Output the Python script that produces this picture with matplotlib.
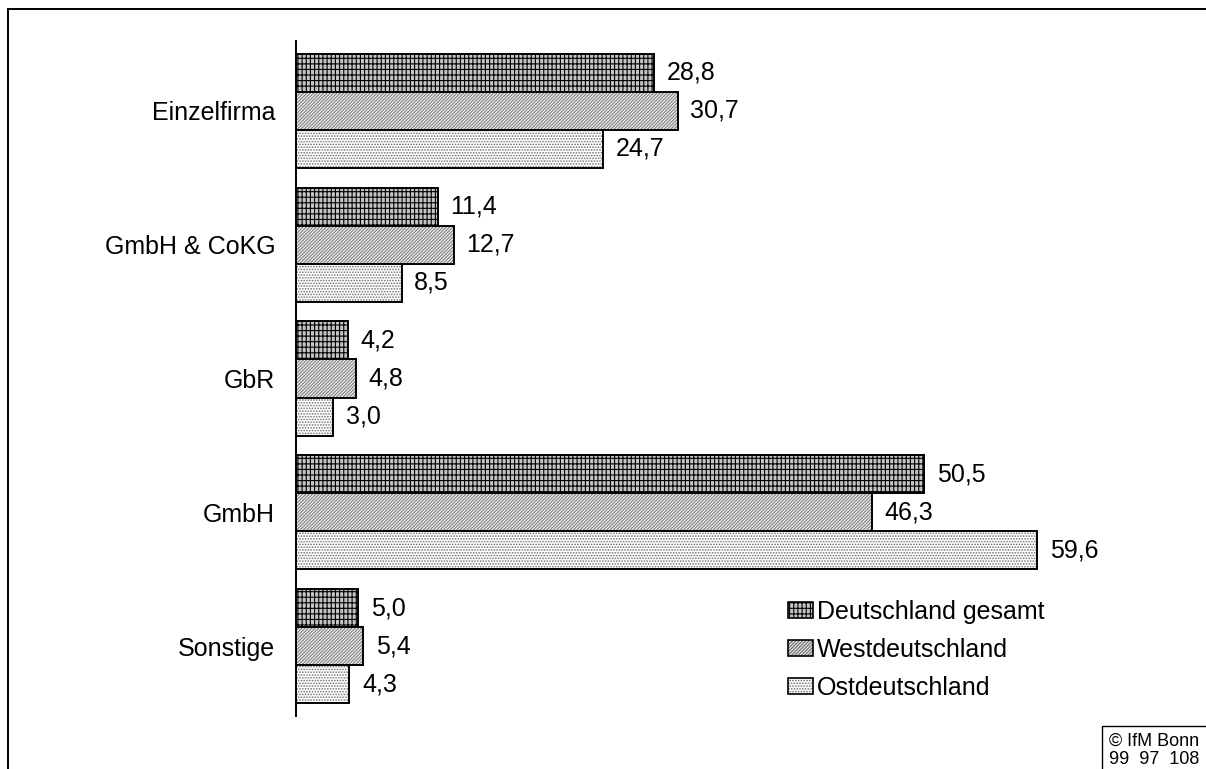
import matplotlib
matplotlib.use("Agg")
import matplotlib.pyplot as plt
from matplotlib.patches import Rectangle
from matplotlib.legend_handler import HandlerTuple
import numpy as np

plt.rcParams['font.family'] = ['Liberation Sans', 'DejaVu Sans']
plt.rcParams['hatch.linewidth'] = 0.8

categories = ["Einzelfirma", "GmbH & CoKG", "GbR", "GmbH", "Sonstige"]
series_names = ["Deutschland gesamt", "Westdeutschland", "Ostdeutschland"]
gesamt = [28.8, 11.4, 4.2, 50.5, 5.0]
west = [30.7, 12.7, 4.8, 46.3, 5.4]
ost = [24.7, 8.5, 3.0, 59.6, 4.3]

W, H = 1206, 769
fig = plt.figure(figsize=(W / 100, H / 100), dpi=100)

# outer frame of the chart area (runs off the right and bottom edges)
fig.patches.append(Rectangle((8 / W, -0.05), 1.1, 1 - 9 / H + 0.05,
                             transform=fig.transFigure, fill=False,
                             edgecolor='black', linewidth=1.4))

ax = fig.add_axes([296 / W, 1 - 716 / H, (1190 - 296) / W, (716 - 41) / H])
ax.set_xlim(0, 894 / 12.44)
ax.set_ylim(4.52, -0.52)

y = np.arange(len(categories))
bh = 0.284

# fill colour and hatch layers per series: (face, [(hatch, colour, width), ...])
styles = [
    ("#c4c4c4", [("||||---", "black", 0.8)]),
    ("#e6e6e6", [("//////////", "#6a6a6a", 0.6)]),
    ("white", [("......", "#707070", 0.8)]),
]
values = [gesamt, west, ost]

for k, (vals, (face, layers)) in enumerate(zip(values, styles)):
    pos = y + (k - 1) * bh
    ax.barh(pos, vals, height=bh, color=face, linewidth=0)
    for hatch, col, lw in layers:
        plt.rcParams['hatch.linewidth'] = lw
        ax.barh(pos, vals, height=bh, facecolor='none', edgecolor=col,
                hatch=hatch, linewidth=0)
    ax.barh(pos, vals, height=bh, fill=False, edgecolor='black', linewidth=1.4)
    for p, v in zip(pos, vals):
        ax.text(v + 1.0, p, f"{v:.1f}".replace('.', ','), va='center',
                ha='left', fontsize=18)

for spine in ['top', 'right', 'bottom']:
    ax.spines[spine].set_visible(False)
ax.spines['left'].set_linewidth(1.4)
ax.set_xticks([])
ax.set_yticks(y)
ax.set_yticklabels(categories, fontsize=18)
ax.tick_params(axis='y', length=0, pad=15)

# legend handles built from the same fill and hatch layers
handles = []
for face, layers in styles:
    parts = [Rectangle((0, 0), 1, 1, facecolor=face, linewidth=0)]
    for h, c, lw in layers:
        plt.rcParams['hatch.linewidth'] = lw
        parts.append(Rectangle((0, 0), 1, 1, facecolor='none', edgecolor=c,
                               hatch=h, linewidth=0))
    parts.append(Rectangle((0, 0), 1, 1, fill=False, edgecolor='black',
                           linewidth=1.2))
    handles.append(tuple(parts))
ax.legend(handles, series_names, handler_map={tuple: HandlerTuple(ndivide=1, pad=0)},
          loc='upper left', bbox_to_anchor=((788 - 296) / 894, 1 - (600 - 41) / 675),
          frameon=False, fontsize=18, handlelength=1.0, handleheight=0.62,
          handletextpad=0.15, labelspacing=0.56, borderpad=0, borderaxespad=0)

# source box in the lower right corner
fig.patches.append(Rectangle((1102 / W, -0.05), 0.2, 0.05 + 1 - 726 / H,
                             transform=fig.transFigure, fill=False,
                             edgecolor='black', linewidth=1.0))
fig.text(1109 / W, 1 - 741 / H, "© IfM Bonn", fontsize=13, va='center', ha='left')
fig.text(1109 / W, 1 - 760 / H, "99  97  108", fontsize=13, va='center', ha='left')

fig.savefig("out.png", dpi=100)
